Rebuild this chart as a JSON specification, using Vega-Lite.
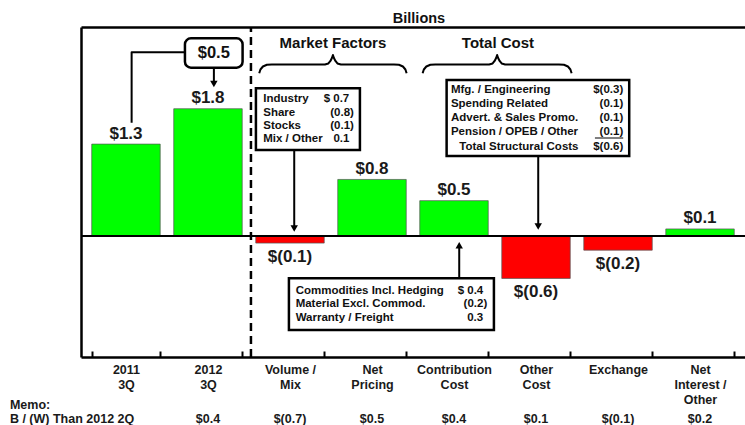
{
  "$schema": "https://vega.github.io/schema/vega-lite/v6.json",
  "width": 664,
  "height": 330,
  "autosize": {"type": "none"},
  "padding": {"left": 81, "top": 27, "right": 0, "bottom": 68},
  "background": "white",
  "config": {"view": {"stroke": null}, "font": "Liberation Sans"},
  "title": {"text": "Billions", "anchor": "middle", "frame": "group", "dx": 6, "offset": -12, "baseline": "alphabetic", "font": "Liberation Sans", "fontSize": 14.5, "fontWeight": "bold", "color": "#111"},
  "datasets": {
    "bars": [
      {"cat": "2011|3Q", "v": 1.3, "label": "$1.3", "memo": ""},
      {"cat": "2012|3Q", "v": 1.8, "label": "$1.8", "memo": "$0.4"},
      {"cat": "Volume /|Mix", "v": -0.1, "label": "$(0.1)", "memo": "$(0.7)"},
      {"cat": "Net|Pricing", "v": 0.8, "label": "$0.8", "memo": "$0.5"},
      {"cat": "Contribution|Cost", "v": 0.5, "label": "$0.5", "memo": "$0.4"},
      {"cat": "Other|Cost", "v": -0.6, "label": "$(0.6)", "memo": "$0.1"},
      {"cat": "Exchange", "v": -0.2, "label": "$(0.2)", "memo": "$(0.1)"},
      {"cat": "Net|Interest /|Other", "v": 0.1, "label": "$0.1", "memo": "$0.2"}
    ],
    "boxes": [
      {"id": "delta", "u": 0.720, "u2": 1.423, "v": 2.796, "v2": 2.380},
      {"id": "market", "u": 1.5856, "u2": 2.8539, "v": 2.0891, "v2": 1.2164},
      {"id": "total", "u": 3.9112, "u2": 6.1380, "v": 2.2065, "v2": 1.1315},
      {"id": "contrib", "u": 1.9880, "u2": 4.4880, "v": -0.5983, "v2": -1.3296}
    ],
    "paths": [
      {"id": "c1", "ord": 1, "u": 0.0698, "v": 1.6025},
      {"id": "c1", "ord": 2, "u": 0.0698, "v": 2.598},
      {"id": "c1", "ord": 3, "u": 0.720, "v": 2.598},
      {"id": "a1", "ord": 1, "u": 1.073, "v": 2.380},
      {"id": "a1", "ord": 2, "u": 1.073, "v": 2.150},
      {"id": "a2", "ord": 1, "u": 2.0527, "v": 1.2164},
      {"id": "a2", "ord": 2, "u": 2.0527, "v": 0.106},
      {"id": "a3", "ord": 1, "u": 5.0283, "v": 1.1315},
      {"id": "a3", "ord": 2, "u": 5.0283, "v": 0.134},
      {"id": "a4", "ord": 1, "u": 4.0649, "v": -0.5983},
      {"id": "a4", "ord": 2, "u": 4.0649, "v": -0.130},
      {"id": "b1", "ord": 1, "u": 1.6258, "v": 2.3013},
      {"id": "b1", "ord": 2, "u": 1.6405, "v": 2.3550},
      {"id": "b1", "ord": 3, "u": 1.6709, "v": 2.3975},
      {"id": "b1", "ord": 4, "u": 1.7197, "v": 2.4215},
      {"id": "b1", "ord": 5, "u": 1.7807, "v": 2.4257},
      {"id": "b1", "ord": 6, "u": 2.4270, "v": 2.4257},
      {"id": "b1", "ord": 7, "u": 2.4697, "v": 2.4399},
      {"id": "b1", "ord": 8, "u": 2.4941, "v": 2.4752},
      {"id": "b1", "ord": 9, "u": 2.5124, "v": 2.5177},
      {"id": "b1", "ord": 10, "u": 2.5246, "v": 2.5601},
      {"id": "b1", "ord": 11, "u": 2.5368, "v": 2.5177},
      {"id": "b1", "ord": 12, "u": 2.5551, "v": 2.4752},
      {"id": "b1", "ord": 13, "u": 2.5795, "v": 2.4399},
      {"id": "b1", "ord": 14, "u": 2.6222, "v": 2.4257},
      {"id": "b1", "ord": 15, "u": 3.2685, "v": 2.4257},
      {"id": "b1", "ord": 16, "u": 3.3295, "v": 2.4215},
      {"id": "b1", "ord": 17, "u": 3.3783, "v": 2.3975},
      {"id": "b1", "ord": 18, "u": 3.4087, "v": 2.3550},
      {"id": "b1", "ord": 19, "u": 3.4234, "v": 2.3013},
      {"id": "b2", "ord": 1, "u": 3.6186, "v": 2.3013},
      {"id": "b2", "ord": 2, "u": 3.6332, "v": 2.3550},
      {"id": "b2", "ord": 3, "u": 3.6637, "v": 2.3975},
      {"id": "b2", "ord": 4, "u": 3.7125, "v": 2.4215},
      {"id": "b2", "ord": 5, "u": 3.7734, "v": 2.4257},
      {"id": "b2", "ord": 6, "u": 4.4295, "v": 2.4257},
      {"id": "b2", "ord": 7, "u": 4.4722, "v": 2.4399},
      {"id": "b2", "ord": 8, "u": 4.4966, "v": 2.4752},
      {"id": "b2", "ord": 9, "u": 4.5149, "v": 2.5177},
      {"id": "b2", "ord": 10, "u": 4.5271, "v": 2.5601},
      {"id": "b2", "ord": 11, "u": 4.5393, "v": 2.5177},
      {"id": "b2", "ord": 12, "u": 4.5576, "v": 2.4752},
      {"id": "b2", "ord": 13, "u": 4.5820, "v": 2.4399},
      {"id": "b2", "ord": 14, "u": 4.6247, "v": 2.4257},
      {"id": "b2", "ord": 15, "u": 5.2808, "v": 2.4257},
      {"id": "b2", "ord": 16, "u": 5.3417, "v": 2.4215},
      {"id": "b2", "ord": 17, "u": 5.3905, "v": 2.3975},
      {"id": "b2", "ord": 18, "u": 5.4210, "v": 2.3550},
      {"id": "b2", "ord": 19, "u": 5.4356, "v": 2.3013}
    ],
    "heads": [
      {"u": 1.073, "v": 2.150, "dir": "down"},
      {"u": 2.0527, "v": 0.106, "dir": "down"},
      {"u": 5.0283, "v": 0.134, "dir": "down"},
      {"u": 4.0649, "v": -0.130, "dir": "up"}
    ],
    "headings": [
      {"t": "Market Factors", "u": 2.525, "v": 2.726},
      {"t": "Total Cost", "u": 4.537, "v": 2.726}
    ],
    "delta": [
      {"t": "$0.5", "u": 1.072, "v": 2.590}
    ],
    "boxtext": [
      {"t": "Industry", "col": "l", "u": 1.6746, "v": 1.9335},
      {"t": "$ 0.7", "col": "r", "u": 2.7240, "v": 1.9335},
      {"t": "Share", "col": "l", "u": 1.6746, "v": 1.7440},
      {"t": "(0.8)", "col": "r", "u": 2.7808, "v": 1.7440},
      {"t": "Stocks", "col": "l", "u": 1.6746, "v": 1.5559},
      {"t": "(0.1)", "col": "r", "u": 2.7808, "v": 1.5559},
      {"t": "Mix / Other", "col": "l", "u": 1.6746, "v": 1.3678},
      {"t": "0.1", "col": "r", "u": 2.7259, "v": 1.3678},
      {"t": "Mfg. / Engineering", "col": "l", "u": 3.9637, "v": 2.0651},
      {"t": "$(0.3)", "col": "r", "u": 6.0649, "v": 2.0651},
      {"t": "Spending Related", "col": "l", "u": 3.9637, "v": 1.8628},
      {"t": "(0.1)", "col": "r", "u": 6.0649, "v": 1.8628},
      {"t": "Advert. & Sales Promo.", "col": "l", "u": 3.9637, "v": 1.6648},
      {"t": "(0.1)", "col": "r", "u": 6.0649, "v": 1.6648},
      {"t": "Pension / OPEB / Other", "col": "l", "u": 3.9637, "v": 1.4668},
      {"t": "(0.1)", "col": "r", "u": 6.0649, "v": 1.4668},
      {"t": "Total Structural Costs", "col": "l", "u": 4.0649, "v": 1.2631},
      {"t": "$(0.6)", "col": "r", "u": 6.0649, "v": 1.2631},
      {"t": "Commodities Incl. Hedging", "col": "l", "u": 2.0698, "v": -0.7737},
      {"t": "$ 0.4", "col": "r", "u": 4.3576, "v": -0.7737},
      {"t": "Material Excl. Commod.", "col": "l", "u": 2.0698, "v": -0.9661},
      {"t": "(0.2)", "col": "r", "u": 4.4063, "v": -0.9661},
      {"t": "Warranty / Freight", "col": "l", "u": 2.0698, "v": -1.1641},
      {"t": "0.3", "col": "r", "u": 4.3576, "v": -1.1641},
      {"t": "Memo:", "col": "m", "u": -1.4144, "v": -2.3904},
      {"t": "B / (W) Than 2012 2Q", "col": "m", "u": -1.4144, "v": -2.5926}
    ],
    "underline": [
      {"u": 5.7198, "u2": 6.0649, "v": 1.386}
    ]
  },
  "layer": [
    {
      "data": {"name": "bars"},
      "layer": [
        {
          "mark": {"type": "bar", "stroke": "#555", "strokeWidth": 1, "strokeOpacity": 0.7},
          "encoding": {
            "x": {"field": "cat", "type": "nominal", "sort": null,
              "scale": {"paddingInner": 0.165, "paddingOuter": 0.131},
              "axis": {"title": null, "labelAngle": 0, "labelExpr": "split(datum.label, '|')", "labelFont": "Liberation Sans", "labelFontSize": 12.5, "labelFontWeight": "bold", "labelColor": "#1a1a1a", "labelLineHeight": 15, "labelPadding": 12, "tickBand": "extent", "tickSize": -6, "tickWidth": 2, "tickColor": "#000", "domainColor": "#000", "domainWidth": 2.5, "grid": false}},
            "y": {"field": "v", "type": "quantitative", "scale": {"domain": [-1.711, 2.956], "nice": false, "zero": false},
              "axis": {"title": null, "labels": false, "ticks": false, "grid": false, "domainColor": "#000", "domainWidth": 2.5}},
            "y2": {"datum": 0},
            "color": {"condition": {"test": "datum.v < 0", "value": "#ff0000"}, "value": "#00ff00"}
          }
        },
        {
          "transform": [{"filter": "datum.v >= 0"}],
          "mark": {"type": "text", "baseline": "alphabetic", "dy": -5.5, "font": "Liberation Sans", "fontSize": 17, "fontWeight": "bold", "color": "#1a1a1a"},
          "encoding": {
            "x": {"field": "cat", "type": "nominal", "sort": null},
            "y": {"field": "v", "type": "quantitative", "scale": {"domain": [-1.711, 2.956], "nice": false, "zero": false}},
            "text": {"field": "label"}
          }
        },
        {
          "transform": [{"filter": "datum.v < 0"}],
          "mark": {"type": "text", "baseline": "alphabetic", "dy": 18.5, "font": "Liberation Sans", "fontSize": 17, "fontWeight": "bold", "color": "#1a1a1a"},
          "encoding": {
            "x": {"field": "cat", "type": "nominal", "sort": null},
            "y": {"field": "v", "type": "quantitative", "scale": {"domain": [-1.711, 2.956], "nice": false, "zero": false}},
            "text": {"field": "label"}
          }
        },
        {
          "mark": {"type": "text", "baseline": "middle", "font": "Liberation Sans", "fontSize": 12.5, "fontWeight": "bold", "color": "#1a1a1a"},
          "encoding": {
            "x": {"field": "cat", "type": "nominal", "sort": null},
            "y": {"datum": -2.5926, "scale": {"domain": [-1.711, 2.956], "nice": false, "zero": false}},
            "text": {"field": "memo"}
          }
        }
      ]
    },
    {
      "layer": [
        {
          "data": {"values": [{"lo": -1.711, "hi": 2.956, "pos": 1.525}]},
          "mark": {"type": "rule", "color": "#000", "strokeWidth": 2.5, "strokeDash": [8, 5]},
          "encoding": {
            "x": {"field": "pos", "type": "quantitative", "scale": {"domain": [-0.5476, 7.55], "nice": false, "zero": false},
              "axis": {"orient": "top", "title": null, "labels": false, "ticks": false, "grid": false, "domainColor": "#000", "domainWidth": 2.5}},
            "y": {"field": "lo", "type": "quantitative", "scale": {"domain": [-1.711, 2.956], "nice": false, "zero": false}},
            "y2": {"field": "hi"}
          }
        },
        {
          "data": {"values": [{"base": 0}]},
          "mark": {"type": "rule", "color": "#000", "strokeWidth": 2},
          "encoding": {
            "y": {"field": "base", "type": "quantitative", "scale": {"domain": [-1.711, 2.956], "nice": false, "zero": false}}
          }
        },
        {
          "data": {"name": "boxes"},
          "transform": [{"filter": "datum.id == 'delta'"}],
          "mark": {"type": "rect", "fill": "white", "stroke": "#000", "strokeWidth": 2.5, "cornerRadius": 6},
          "encoding": {
            "x": {"field": "u", "type": "quantitative", "scale": {"domain": [-0.5476, 7.55], "nice": false, "zero": false}},
            "x2": {"field": "u2"},
            "y": {"field": "v", "type": "quantitative", "scale": {"domain": [-1.711, 2.956], "nice": false, "zero": false}},
            "y2": {"field": "v2"}
          }
        },
        {
          "data": {"name": "boxes"},
          "transform": [{"filter": "datum.id != 'delta'"}],
          "mark": {"type": "rect", "fill": "white", "stroke": "#000", "strokeWidth": 2.5},
          "encoding": {
            "x": {"field": "u", "type": "quantitative", "scale": {"domain": [-0.5476, 7.55], "nice": false, "zero": false}},
            "x2": {"field": "u2"},
            "y": {"field": "v", "type": "quantitative", "scale": {"domain": [-1.711, 2.956], "nice": false, "zero": false}},
            "y2": {"field": "v2"}
          }
        },
        {
          "data": {"name": "paths"},
          "mark": {"type": "line", "color": "#000", "strokeWidth": 2, "strokeJoin": "round", "strokeCap": "butt"},
          "encoding": {
            "x": {"field": "u", "type": "quantitative", "scale": {"domain": [-0.5476, 7.55], "nice": false, "zero": false}},
            "y": {"field": "v", "type": "quantitative", "scale": {"domain": [-1.711, 2.956], "nice": false, "zero": false}},
            "detail": {"field": "id"},
            "order": {"field": "ord", "type": "quantitative"}
          }
        },
        {
          "data": {"name": "heads"},
          "mark": {"type": "point", "filled": true, "color": "#000", "opacity": 1, "size": 55},
          "encoding": {
            "x": {"field": "u", "type": "quantitative", "scale": {"domain": [-0.5476, 7.55], "nice": false, "zero": false}},
            "y": {"field": "v", "type": "quantitative", "scale": {"domain": [-1.711, 2.956], "nice": false, "zero": false}},
            "shape": {"field": "dir", "type": "nominal", "scale": {"domain": ["down", "up"], "range": ["triangle-down", "triangle-up"]}, "legend": null}
          }
        },
        {
          "data": {"name": "underline"},
          "mark": {"type": "rule", "color": "#000", "strokeWidth": 1},
          "encoding": {
            "x": {"field": "u", "type": "quantitative", "scale": {"domain": [-0.5476, 7.55], "nice": false, "zero": false}},
            "x2": {"field": "u2"},
            "y": {"field": "v", "type": "quantitative", "scale": {"domain": [-1.711, 2.956], "nice": false, "zero": false}}
          }
        },
        {
          "data": {"name": "headings"},
          "mark": {"type": "text", "baseline": "middle", "align": "center", "font": "Liberation Sans", "fontSize": 15, "fontWeight": "bold", "color": "#111"},
          "encoding": {
            "x": {"field": "u", "type": "quantitative", "scale": {"domain": [-0.5476, 7.55], "nice": false, "zero": false}},
            "y": {"field": "v", "type": "quantitative", "scale": {"domain": [-1.711, 2.956], "nice": false, "zero": false}},
            "text": {"field": "t"}
          }
        },
        {
          "data": {"name": "delta"},
          "mark": {"type": "text", "baseline": "middle", "align": "center", "font": "Liberation Sans", "fontSize": 16.5, "fontWeight": "bold", "color": "#111"},
          "encoding": {
            "x": {"field": "u", "type": "quantitative", "scale": {"domain": [-0.5476, 7.55], "nice": false, "zero": false}},
            "y": {"field": "v", "type": "quantitative", "scale": {"domain": [-1.711, 2.956], "nice": false, "zero": false}},
            "text": {"field": "t"}
          }
        },
        {
          "data": {"name": "boxtext"},
          "transform": [{"filter": "datum.col == 'l'"}],
          "mark": {"type": "text", "baseline": "middle", "align": "left", "font": "Liberation Sans", "fontSize": 11.5, "fontWeight": "bold", "color": "#111"},
          "encoding": {
            "x": {"field": "u", "type": "quantitative", "scale": {"domain": [-0.5476, 7.55], "nice": false, "zero": false}},
            "y": {"field": "v", "type": "quantitative", "scale": {"domain": [-1.711, 2.956], "nice": false, "zero": false}},
            "text": {"field": "t"}
          }
        },
        {
          "data": {"name": "boxtext"},
          "transform": [{"filter": "datum.col == 'r'"}],
          "mark": {"type": "text", "baseline": "middle", "align": "right", "font": "Liberation Sans", "fontSize": 11.5, "fontWeight": "bold", "color": "#111"},
          "encoding": {
            "x": {"field": "u", "type": "quantitative", "scale": {"domain": [-0.5476, 7.55], "nice": false, "zero": false}},
            "y": {"field": "v", "type": "quantitative", "scale": {"domain": [-1.711, 2.956], "nice": false, "zero": false}},
            "text": {"field": "t"}
          }
        },
        {
          "data": {"name": "boxtext"},
          "transform": [{"filter": "datum.col == 'm'"}],
          "mark": {"type": "text", "baseline": "middle", "align": "left", "font": "Liberation Sans", "fontSize": 12.5, "fontWeight": "bold", "color": "#1a1a1a"},
          "encoding": {
            "x": {"field": "u", "type": "quantitative", "scale": {"domain": [-0.5476, 7.55], "nice": false, "zero": false}},
            "y": {"field": "v", "type": "quantitative", "scale": {"domain": [-1.711, 2.956], "nice": false, "zero": false}},
            "text": {"field": "t"}
          }
        }
      ]
    }
  ],
  "resolve": {"scale": {"x": "independent"}}
}
